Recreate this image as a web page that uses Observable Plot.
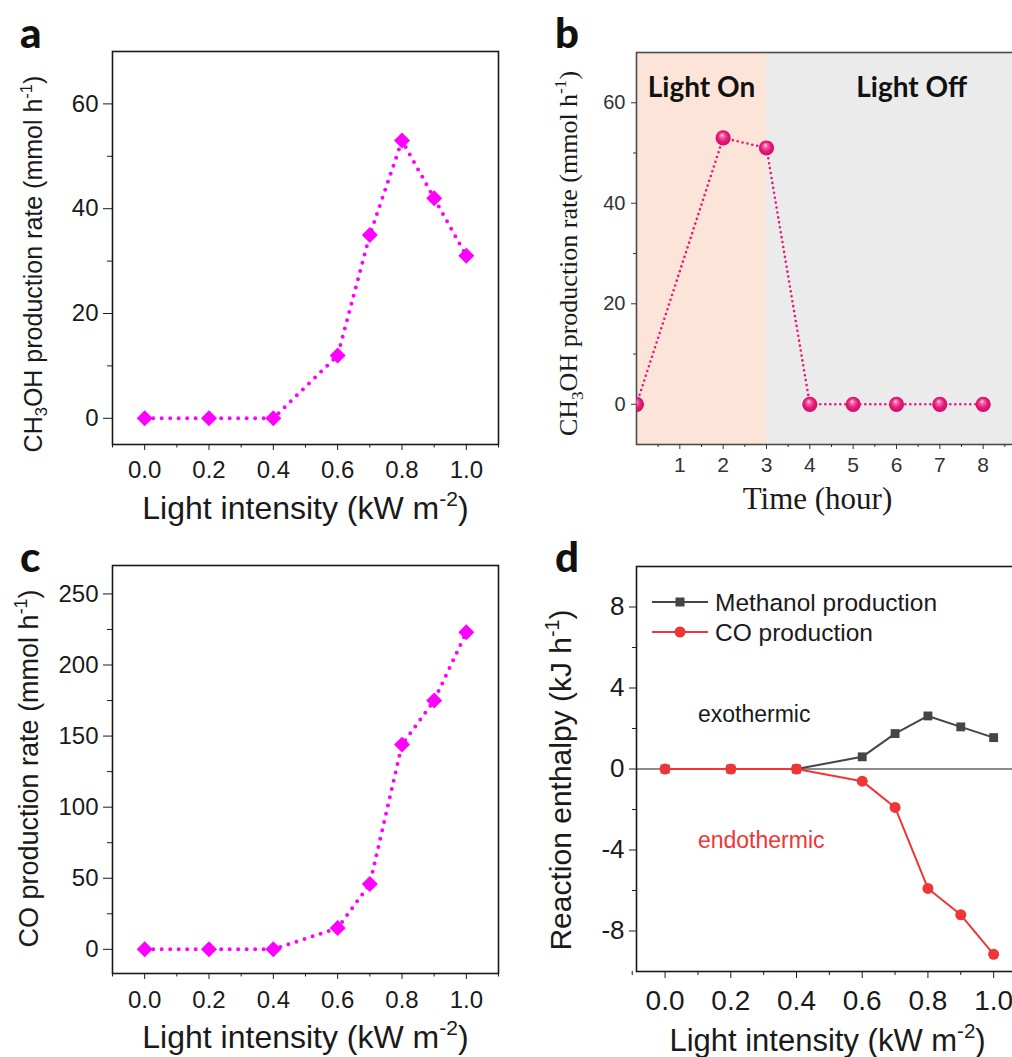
<!DOCTYPE html>
<html><head><meta charset="utf-8">
<script src="https://cdn.jsdelivr.net/npm/d3@7"></script>
<script src="https://cdn.jsdelivr.net/npm/@observablehq/plot@0.6"></script>
<style>
html,body{margin:0;padding:0;background:#fff;overflow:hidden}
#wrap{position:relative;width:1012px;height:1057px;overflow:hidden;background:#fff}
#wrap > svg{position:absolute}
</style></head><body><div id="wrap"></div>
<script>
// ---------- data ----------
const intensity = [0, 0.2, 0.4, 0.6, 0.7, 0.8, 0.9, 1.0];
const ch3ohRate = [0, 0, 0, 12, 35, 53, 42, 31];
const coRate = [0, 0, 0, 15, 46, 144, 175, 223];
const timeHour = [0, 2, 3, 4, 5, 6, 7, 8];
const cycleRate = [0, 53, 51, 0, 0, 0, 0, 0];
const methanolEnthalpy = [0, 0, 0, 0.6, 1.75, 2.62, 2.08, 1.55];
const coEnthalpy = [0, 0, 0, -0.6, -1.9, -5.9, -7.2, -9.15];
const phaseNames = ["Light On", "Light Off"];
const phaseStart = [0, 3];
const phaseEnd = [3, 9];
const phaseLabelX = [1.5, 6.35];
const regionNames = ["exothermic", "endothermic"];
const regionLabelX = [0.1, 0.1];
const regionLabelY = [2.34, -3.88];
const seriesNames = ["Methanol production", "CO production"];
const intensityTicks = [0, 0.2, 0.4, 0.6, 0.8, 1.0];
const intensityMinor = [-0.1, 0.1, 0.3, 0.5, 0.7, 0.9, 1.1];
const aYTicks = [0, 20, 40, 60], aYMinor = [10, 30, 50];
const bXTicks = [1, 2, 3, 4, 5, 6, 7, 8], bXMinor = [0.5, 1.5, 2.5, 3.5, 4.5, 5.5, 6.5, 7.5, 8.5];
const bYTicks = [0, 20, 40, 60], bYMinor = [10, 30, 50];
const cYTicks = [0, 50, 100, 150, 200, 250], cYMinor = [25, 75, 125, 175, 225];
const dYTicks = [-8, -4, 0, 4, 8], dYMinor = [-6, -2, 2, 6];
const labA = "CH{_3}OH production rate (mmol h{^-1})";
const labC = "CO production rate (mmol h{^-1})";
const labD = "Reaction enthalpy (kJ h{^-1})";
const labIntensity = "Light intensity (kW m{^-2})";
const labTime = "Time (hour)";

// ---------- styles ----------
const sans = "'Liberation Sans', Arial, sans-serif";
const serif = "'Liberation Serif', 'Times New Roman', serif";
const bold = "Lato, 'Open Sans', sans-serif";
const magenta = "#FF00FF", pink = "#E6177A", gray = "#454545", red = "#EE3636";
const wrap = document.getElementById("wrap");
const ns = "http://www.w3.org/2000/svg";

function place(svg, left, top) {
  svg.style.left = left + "px"; svg.style.top = top + "px";
  wrap.appendChild(svg);
  svg.querySelectorAll("text").forEach(t => {
    const raw = t.textContent;
    if (!raw.includes("{")) return;
    const fs = parseFloat(getComputedStyle(t).fontSize);
    while (t.firstChild) t.removeChild(t.firstChild);
    let shift = 0;
    for (const p of raw.split(/(\{[_^][^}]*\})/)) {
      if (!p) continue;
      const ts = document.createElementNS(ns, "tspan");
      const m = p.match(/^\{([_^])(.*)\}$/);
      if (m) {
        const s = m[1] === "^" ? -0.4 * fs : 0.22 * fs;
        ts.setAttribute("dy", s - shift); shift = s;
        ts.setAttribute("font-size", 0.66 * fs);
        ts.textContent = m[2];
      } else {
        if (shift !== 0) ts.setAttribute("dy", -shift);
        shift = 0; ts.textContent = p;
      }
      t.appendChild(ts);
    }
  });
}
const blank = () => "";
const plain = d => String(d);
const fixed1 = d3.format(".1f");

// ---------- panel a ----------
{
  const data = intensity.map((x, i) => ({x, y: ch3ohRate[i]}));
  const svg = Plot.plot({
    width: 506, height: 530, marginLeft: 112, marginTop: 51, marginRight: 8, marginBottom: 86,
    x: {domain: [-0.1, 1.1]}, y: {domain: [-5, 70]},
    style: {fontFamily: sans, background: "transparent", color: "#1a1a1a"},
    marks: [
      Plot.frame({stroke: "#1a1a1a", strokeWidth: 1.6}),
      Plot.axisX({ticks: intensityTicks, tickSize: 6, tickPadding: 10, tickFormat: fixed1, fontSize: 24, label: null}),
      Plot.axisX({ticks: intensityMinor, tickSize: 3.5, tickFormat: blank, label: null}),
      Plot.axisY({ticks: aYTicks, tickSize: 9, tickPadding: 5, tickFormat: plain, fontSize: 24, label: null}),
      Plot.axisY({ticks: aYMinor, tickSize: 5, tickFormat: blank, label: null}),
      Plot.line(data, {x: "x", y: "y", stroke: magenta, strokeWidth: 4, strokeDasharray: "0 8.5", strokeLinecap: "round"}),
      Plot.dot(data, {x: "x", y: "y", symbol: "diamond2", r: 7.2, fill: magenta, stroke: "none"}),
      Plot.text([labIntensity], {text: d => d, frameAnchor: "bottom", textAnchor: "middle", lineAnchor: "bottom", dy: 74, fontSize: 32, fontFamily: sans, fill: "#1a1a1a"}),
      Plot.text([labA], {text: d => d, frameAnchor: "left", textAnchor: "middle", rotate: -90, dx: -79, dy: 16, fontSize: 25, fontFamily: sans, fill: "#1a1a1a"})
    ]
  });
  place(svg, 0, 0);
}

// ---------- panel b ----------
{
  const data = timeHour.map((x, i) => ({x, y: cycleRate[i]}));
  const phases = phaseNames.map((name, i) => ({name, start: phaseStart[i], end: phaseEnd[i], lx: phaseLabelX[i]}));
  const mL = 130, mT = 52, mR = 20, mB = 86, W = 540, H = 530;
  const svg = Plot.plot({
    width: W, height: H, marginLeft: mL, marginTop: mT, marginRight: mR, marginBottom: mB,
    x: {domain: [0, 9]}, y: {domain: [-8, 70]},
    style: {fontFamily: sans, background: "transparent", color: "#333"},
    marks: [
      Plot.rect(phases.slice(0, 1), {x1: "start", x2: "end", fill: "#FCE5D8"}),
      Plot.rect(phases.slice(1), {x1: "start", x2: "end", fill: "#EBEBEB"}),
      Plot.frame({stroke: "#4a4a4a", strokeWidth: 1.6}),
      Plot.axisX({ticks: bXTicks, tickSize: 5, tickPadding: 8, fontSize: 21, label: null}),
      Plot.axisX({ticks: bXMinor, tickSize: 3, tickFormat: blank, label: null}),
      Plot.axisY({ticks: bYTicks, tickSize: 5, tickPadding: 6, tickFormat: plain, fontSize: 20, label: null}),
      Plot.axisY({ticks: bYMinor, tickSize: 3, tickFormat: blank, label: null}),
      Plot.line(data, {x: "x", y: "y", stroke: pink, strokeWidth: 2.6, strokeDasharray: "0 5", strokeLinecap: "round"}),
      Plot.dot(data, {x: "x", y: "y", r: 7.6, fill: "url(#ballGrad)", stroke: "none"}),
      Plot.text(phases, {x: "lx", text: "name", frameAnchor: "top", textAnchor: "middle", lineAnchor: "bottom", dy: 44, fontSize: 28, fontWeight: "bold", fontFamily: bold, fill: "#111"}),
      Plot.text([labTime], {text: d => d, frameAnchor: "bottom", textAnchor: "middle", lineAnchor: "bottom", dy: 64, dx: -14, fontSize: 31, fontFamily: serif, fill: "#1a1a1a"}),
      Plot.text([labA], {text: d => d, frameAnchor: "left", textAnchor: "middle", rotate: -90, dx: -68, dy: 5, fontSize: 26, fontFamily: serif, fill: "#1a1a1a"})
    ]
  });
  svg.insertAdjacentHTML("afterbegin",
    `<defs><radialGradient id="ballGrad" cx="0.5" cy="0.5" r="0.55" fx="0.42" fy="0.3">
      <stop offset="0" stop-color="#ffe3f0"/><stop offset="0.22" stop-color="#f46aa8"/>
      <stop offset="0.6" stop-color="#e6177a"/><stop offset="1" stop-color="#c70e64"/></radialGradient>
      <clipPath id="bFrameClip" clipPathUnits="userSpaceOnUse"><rect x="${mL}" y="${mT}" width="${W - mL - mR}" height="${H - mT - mB}"/></clipPath></defs>`);
  svg.querySelectorAll('g[aria-label="dot"], g[aria-label="line"]').forEach(g => g.setAttribute("clip-path", "url(#bFrameClip)"));
  place(svg, 506, 0);
}

// ---------- panel c ----------
{
  const data = intensity.map((x, i) => ({x, y: coRate[i]}));
  const svg = Plot.plot({
    width: 506, height: 527, marginLeft: 112, marginTop: 35, marginRight: 8, marginBottom: 84,
    x: {domain: [-0.1, 1.1]}, y: {domain: [-17, 270]},
    style: {fontFamily: sans, background: "transparent", color: "#1a1a1a"},
    marks: [
      Plot.frame({stroke: "#1a1a1a", strokeWidth: 1.6}),
      Plot.axisX({ticks: intensityTicks, tickSize: 6, tickPadding: 11, tickFormat: fixed1, fontSize: 24, label: null}),
      Plot.axisX({ticks: intensityMinor, tickSize: 3.5, tickFormat: blank, label: null}),
      Plot.axisY({ticks: cYTicks, tickSize: 9, tickPadding: 5, tickFormat: plain, fontSize: 24, label: null}),
      Plot.axisY({ticks: cYMinor, tickSize: 5, tickFormat: blank, label: null}),
      Plot.line(data, {x: "x", y: "y", stroke: magenta, strokeWidth: 4, strokeDasharray: "0 8.5", strokeLinecap: "round"}),
      Plot.dot(data, {x: "x", y: "y", symbol: "diamond2", r: 7.2, fill: magenta, stroke: "none"}),
      Plot.text([labIntensity], {text: d => d, frameAnchor: "bottom", textAnchor: "middle", lineAnchor: "bottom", dy: 74, fontSize: 32, fontFamily: sans, fill: "#1a1a1a"}),
      Plot.text([labC], {text: d => d, frameAnchor: "left", textAnchor: "middle", rotate: -90, dx: -83, dy: -1, fontSize: 27, fontFamily: sans, fill: "#1a1a1a"})
    ]
  });
  place(svg, 0, 530);
}

// ---------- panel d ----------
{
  const meth = intensity.map((x, i) => ({x, y: methanolEnthalpy[i]}));
  const co = intensity.map((x, i) => ({x, y: coEnthalpy[i]}));
  const regions = regionNames.map((name, i) => ({name, x: regionLabelX[i], y: regionLabelY[i]}));
  const svg = Plot.plot({
    width: 540, height: 527, marginLeft: 130, marginTop: 36, marginRight: 20, marginBottom: 86,
    x: {domain: [-0.087, 1.1]}, y: {domain: [-10, 10]},
    style: {fontFamily: sans, background: "transparent", color: "#1a1a1a"},
    marks: [
      Plot.frame({stroke: "#1a1a1a", strokeWidth: 1.6}),
      Plot.ruleY([0], {stroke: "#1a1a1a", strokeWidth: 1.2}),
      Plot.axisX({ticks: intensityTicks, tickSize: 7, tickPadding: 12, tickFormat: fixed1, fontSize: 28, label: null}),
      Plot.axisX({ticks: intensityMinor, tickSize: 4, tickFormat: blank, label: null}),
      Plot.axisY({ticks: dYTicks, tickSize: 7, tickPadding: 5, tickFormat: plain, fontSize: 26, label: null}),
      Plot.axisY({ticks: dYMinor, tickSize: 4, tickFormat: blank, label: null}),
      Plot.line(meth, {x: "x", y: "y", stroke: gray, strokeWidth: 2}),
      Plot.dot(meth, {x: "x", y: "y", symbol: "square", r: 5, fill: gray, stroke: "none"}),
      Plot.line(co, {x: "x", y: "y", stroke: red, strokeWidth: 2}),
      Plot.dot(co, {x: "x", y: "y", r: 5.5, fill: red, stroke: "none"}),
      Plot.text(regions, {x: "x", y: "y", text: "name", textAnchor: "start", lineAnchor: "bottom", fontSize: 23, fill: (d) => d.name === "exothermic" ? "#1a1a1a" : red}),
      Plot.text([labIntensity], {text: d => d, frameAnchor: "bottom", textAnchor: "middle", lineAnchor: "bottom", dy: 79, dx: -4, fontSize: 31, fontFamily: sans, fill: "#1a1a1a"}),
      Plot.text([labD], {text: d => d, frameAnchor: "left", textAnchor: "middle", rotate: -90, dx: -75, dy: 11, fontSize: 30, fontFamily: sans, fill: "#1a1a1a"})
    ]
  });
  place(svg, 506, 530);
}

// ---------- overlay: panel letters and legend ----------
{
  const ov = d3.create("svg").attr("width", 1012).attr("height", 1057)
    .style("left", "0px").style("top", "0px").style("pointer-events", "none");
  const letters = [["a", 20, 48], ["b", 555, 48], ["c", 20, 572], ["d", 555, 572]];
  ov.selectAll("text.letter").data(letters).join("text").attr("class", "letter")
    .attr("x", d => d[1]).attr("y", d => d[2]).text(d => d[0])
    .attr("font-family", bold).attr("font-weight", 900)
    .attr("font-size", 42).attr("fill", "#111");
  const leg = ov.append("g").attr("transform", "translate(652,602)");
  const colors = [gray, red];
  seriesNames.forEach((name, i) => {
    const g = leg.append("g").attr("transform", `translate(0,${i * 30})`);
    g.append("line").attr("x1", 0).attr("x2", 56).attr("stroke", colors[i]).attr("stroke-width", 2);
    if (i === 0) g.append("rect").attr("x", 23.5).attr("y", -4.5).attr("width", 9).attr("height", 9).attr("fill", colors[i]);
    else g.append("circle").attr("cx", 28).attr("r", 5.5).attr("fill", colors[i]);
    g.append("text").attr("x", 63).attr("dy", "0.35em").text(name)
      .attr("font-family", sans).attr("font-size", 24.5).attr("fill", "#1a1a1a");
  });
  wrap.appendChild(ov.node());
}
</script></body></html>
